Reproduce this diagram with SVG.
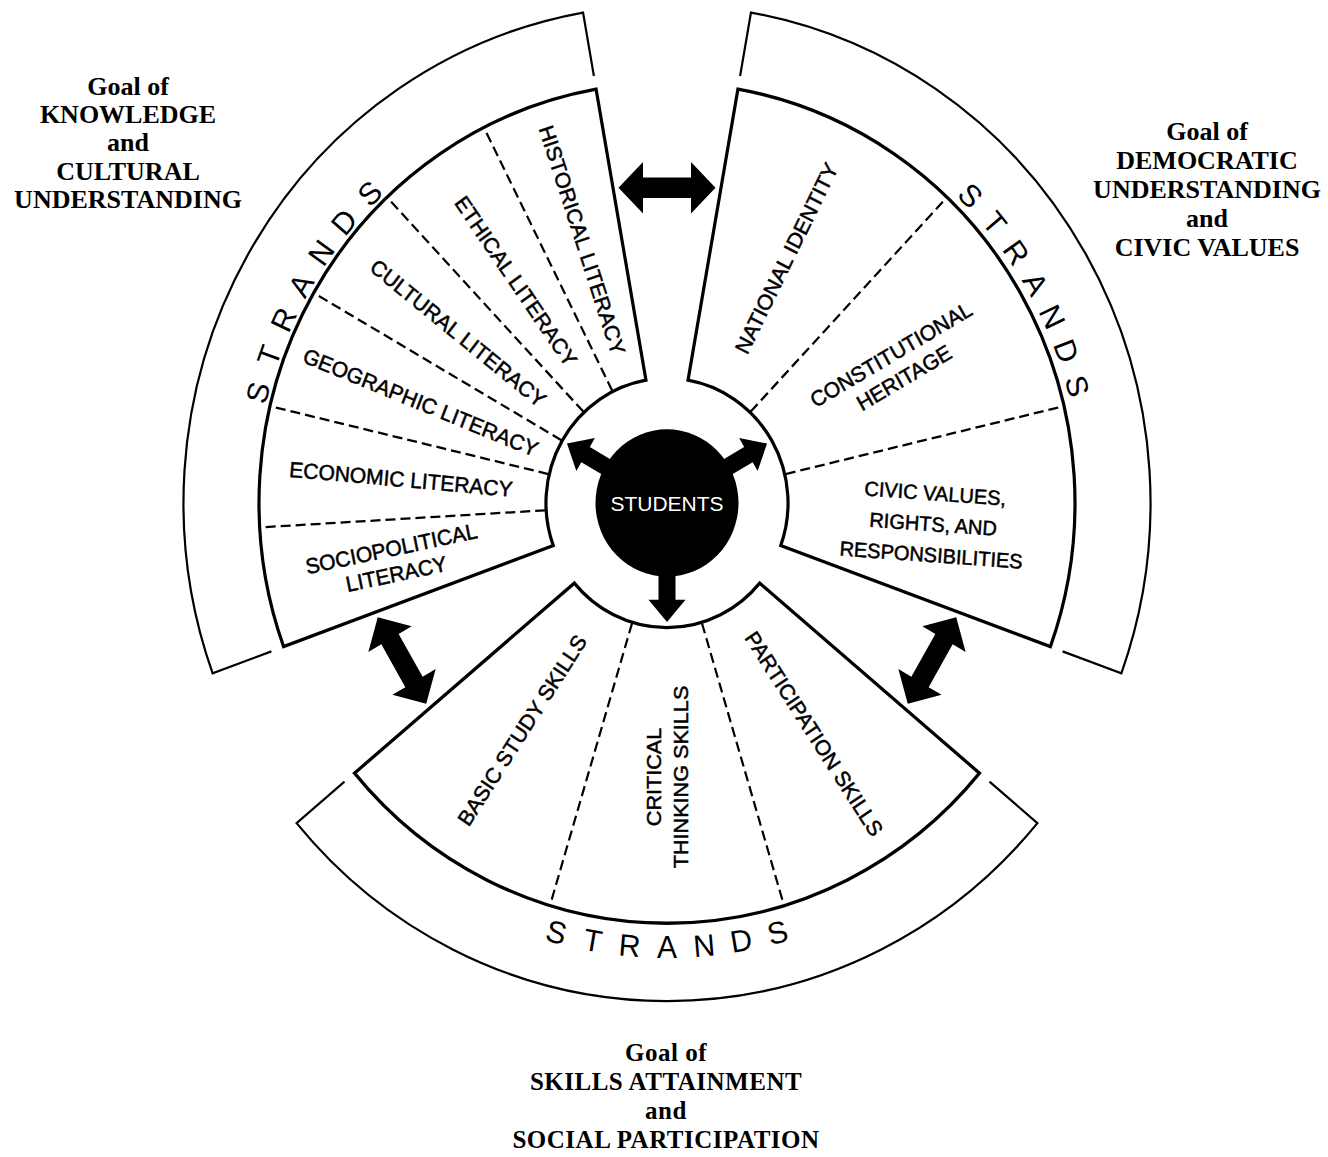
<svg xmlns="http://www.w3.org/2000/svg" width="1328" height="1157" viewBox="0 0 1328 1157">
<defs>
<style>
.sec{fill:#fff;stroke:#000;stroke-width:3.2;stroke-linejoin:miter}
.band{fill:none;stroke:#000;stroke-width:2.2}
.div{stroke:#000;stroke-width:2.2;stroke-dasharray:10 5;fill:none}
.lab{font-family:"Liberation Sans",Arial,sans-serif;font-size:21px;fill:#000;stroke:#000;stroke-width:0.5;text-anchor:middle}
.civ{font-family:"Liberation Sans",Arial,sans-serif;font-size:20px;fill:#000;stroke:#000;stroke-width:0.5;text-anchor:middle}
.str{font-family:"Liberation Sans",Arial,sans-serif;font-size:30px;fill:#000;text-anchor:middle}
.goal{font-family:"Liberation Serif","Times New Roman",serif;font-size:26px;font-weight:bold;fill:#000;text-anchor:middle}
.goalb{font-family:"Liberation Serif","Times New Roman",serif;font-size:25px;font-weight:bold;fill:#000;text-anchor:middle;letter-spacing:0.5px}
.blk{fill:#000;stroke:none}
</style>
<path id="sector" d="M -312.5,-262.3 A 408 408 0 0 1 312.5,-262.3 L 92.7,-77.8 A 121 121 0 0 0 -92.7,-77.8 Z"/>
<path id="bandp" d="M -322.5,-270.6 L -370.4,-310.8 A 483.5 483.5 0 0 1 370.4,-310.8 L 322.5,-270.6"/>
<path id="dbl" d="M -48.5,0 L -24,-25 L -24,-10 L 24,-10 L 24,-25 L 48.5,0 L 24,25 L 24,10 L -24,10 L -24,25 Z"/>
<path id="sarrow" d="M -8.5,50 L 8.5,50 L 8.5,94 L 18.5,94 L 0,115.5 L -18.5,94 L -8.5,94 Z"/>
</defs>
<rect width="1328" height="1157" fill="#fff"/>

<g id="goal-knowledge">
  <g transform="translate(667,503) scale(1,1.03)">
    <g transform="rotate(300)">
      <use href="#bandp" class="band"/>
      <use href="#sector" class="sec"/>
      <line class="div" x1="0" y1="-122" x2="0" y2="-407" transform="rotate(-33.33)"/>
      <line class="div" x1="0" y1="-122" x2="0" y2="-407" transform="rotate(-16.67)"/>
      <line class="div" x1="0" y1="-122" x2="0" y2="-407"/>
      <line class="div" x1="0" y1="-122" x2="0" y2="-407" transform="rotate(16.67)"/>
      <line class="div" x1="0" y1="-122" x2="0" y2="-407" transform="rotate(33.33)"/>
    </g>
    <text class="lab" transform="translate(-273.2,56.4) rotate(-11.67)"><tspan x="0" y="-5">SOCIOPOLITICAL</tspan><tspan x="0" y="20">LITERACY</tspan></text>
    <text class="lab" transform="translate(-266,-23.3) rotate(5)" y="7.5">ECONOMIC LITERACY</text>
    <text class="lab" transform="translate(-246.3,-97.8) rotate(21.67)" y="7.5">GEOGRAPHIC LITERACY</text>
    <text class="lab" transform="translate(-208.7,-165) rotate(38.33)" y="7.5">CULTURAL LITERACY</text>
    <text class="lab" transform="translate(-150.9,-215.4) rotate(55)" y="7.5">ETHICAL LITERACY</text>
    <text class="lab" transform="translate(-84.6,-255.4) rotate(71.67)" y="7.5">HISTORICAL LITERACY</text>
    <g class="strands">
      <text class="str" transform="translate(-409.2,-107.3) rotate(284.7)" y="10.7">S</text>
      <text class="str" transform="translate(-398,-143.3) rotate(289.8)" y="10.7">T</text>
      <text class="str" transform="translate(-383.7,-178.1) rotate(294.9)" y="10.7">R</text>
      <text class="str" transform="translate(-366.3,-211.5) rotate(300)" y="10.7">A</text>
      <text class="str" transform="translate(-346.1,-243.2) rotate(305.1)" y="10.7">N</text>
      <text class="str" transform="translate(-323.1,-273) rotate(310.2)" y="10.7">D</text>
      <text class="str" transform="translate(-297.5,-300.7) rotate(315.3)" y="10.7">S</text>
    </g>
  </g>
  <text class="goal" x="128" y="95">Goal of</text>
  <text class="goal" x="128" y="123">KNOWLEDGE</text>
  <text class="goal" x="128" y="151">and</text>
  <text class="goal" x="128" y="180">CULTURAL</text>
  <text class="goal" x="128" y="208">UNDERSTANDING</text>
</g>

<g id="goal-democratic">
  <g transform="translate(667,503) scale(1,1.03)">
    <g transform="rotate(60)">
      <use href="#bandp" class="band"/>
      <use href="#sector" class="sec"/>
      <line class="div" x1="0" y1="-122" x2="0" y2="-407" transform="rotate(-16.67)"/>
      <line class="div" x1="0" y1="-122" x2="0" y2="-407" transform="rotate(16.67)"/>
    </g>
    <text class="lab" transform="translate(119.4,-237.7) rotate(-63.33)" y="7.5">NATIONAL IDENTITY</text>
    <text class="lab" transform="translate(230.4,-133) rotate(-30)"><tspan x="0" y="-5.5">CONSTITUTIONAL</tspan><tspan x="0" y="20.5">HERITAGE</tspan></text>
    <text class="civ" transform="translate(266.2,20) rotate(4)"><tspan x="0" y="-22.5">CIVIC VALUES,</tspan><tspan x="0" y="7.5">RIGHTS, AND</tspan><tspan x="0" y="37.5">RESPONSIBILITIES</tspan></text>
    <g class="strands">
      <text class="str" transform="translate(303.6,-298.8) rotate(45.45)" y="10.7">S</text>
      <text class="str" transform="translate(327.8,-272.1) rotate(50.3)" y="10.7">T</text>
      <text class="str" transform="translate(349.6,-243.4) rotate(55.15)" y="10.7">R</text>
      <text class="str" transform="translate(368.9,-213) rotate(60)" y="10.7">A</text>
      <text class="str" transform="translate(385.6,-181) rotate(64.85)" y="10.7">N</text>
      <text class="str" transform="translate(399.5,-147.8) rotate(69.7)" y="10.7">D</text>
      <text class="str" transform="translate(410.6,-113.5) rotate(74.55)" y="10.7">S</text>
    </g>
  </g>
  <text class="goal" x="1207" y="140">Goal of</text>
  <text class="goal" x="1207" y="169">DEMOCRATIC</text>
  <text class="goal" x="1207" y="198">UNDERSTANDING</text>
  <text class="goal" x="1207" y="227">and</text>
  <text class="goal" x="1207" y="256">CIVIC VALUES</text>
</g>

<g id="goal-skills">
  <g transform="translate(667,503) scale(1,1.03)">
    <g transform="rotate(180)">
      <use href="#bandp" class="band"/>
      <use href="#sector" class="sec"/>
      <line class="div" x1="0" y1="-122" x2="0" y2="-407" transform="rotate(-16.67)"/>
      <line class="div" x1="0" y1="-122" x2="0" y2="-407" transform="rotate(16.67)"/>
    </g>
    <text class="lab" transform="translate(147.3,223.9) rotate(56.67)" y="7.5">PARTICIPATION SKILLS</text>
    <text class="lab" transform="translate(0,266) rotate(-90)"><tspan x="0" y="-6.5">CRITICAL</tspan><tspan x="0" y="21.5">THINKING SKILLS</tspan></text>
    <text class="lab" transform="translate(-145.1,220.6) rotate(-56.67)" y="7.5">BASIC STUDY SKILLS</text>
    <g class="strands">
      <text class="str" transform="translate(-110.5,416.6) rotate(14.85)" y="10.7">S</text>
      <text class="str" transform="translate(-74.1,424.6) rotate(9.9)" y="10.7">T</text>
      <text class="str" transform="translate(-37.2,429.4) rotate(4.95)" y="10.7">R</text>
      <text class="str" transform="translate(0,431)" y="10.7">A</text>
      <text class="str" transform="translate(37.2,429.4) rotate(-4.95)" y="10.7">N</text>
      <text class="str" transform="translate(74.1,424.6) rotate(-9.9)" y="10.7">D</text>
      <text class="str" transform="translate(110.5,416.6) rotate(-14.85)" y="10.7">S</text>
    </g>
  </g>
  <text class="goalb" x="666" y="1061">Goal of</text>
  <text class="goalb" x="666" y="1090">SKILLS ATTAINMENT</text>
  <text class="goalb" x="666" y="1119">and</text>
  <text class="goalb" x="666" y="1148">SOCIAL PARTICIPATION</text>
</g>

<g id="connectors">
  <g transform="translate(667,503) scale(1,1.03)">
    <use href="#dbl" class="blk" transform="translate(0,-306)"/>
    <use href="#dbl" class="blk" transform="rotate(120) translate(0,-306)"/>
    <use href="#dbl" class="blk" transform="rotate(240) translate(0,-306)"/>
    <use href="#sarrow" class="blk"/>
    <use href="#sarrow" class="blk" transform="rotate(120)"/>
    <use href="#sarrow" class="blk" transform="rotate(240)"/>
  </g>
</g>

<g id="students">
  <g transform="translate(667,503) scale(1,1.03)">
    <circle cx="0" cy="0" r="71.5" fill="#000"/>
  </g>
  <text x="667" y="511" font-family="'Liberation Sans',Arial,sans-serif" font-size="21" fill="#fff" text-anchor="middle">STUDENTS</text>
</g>
</svg>
